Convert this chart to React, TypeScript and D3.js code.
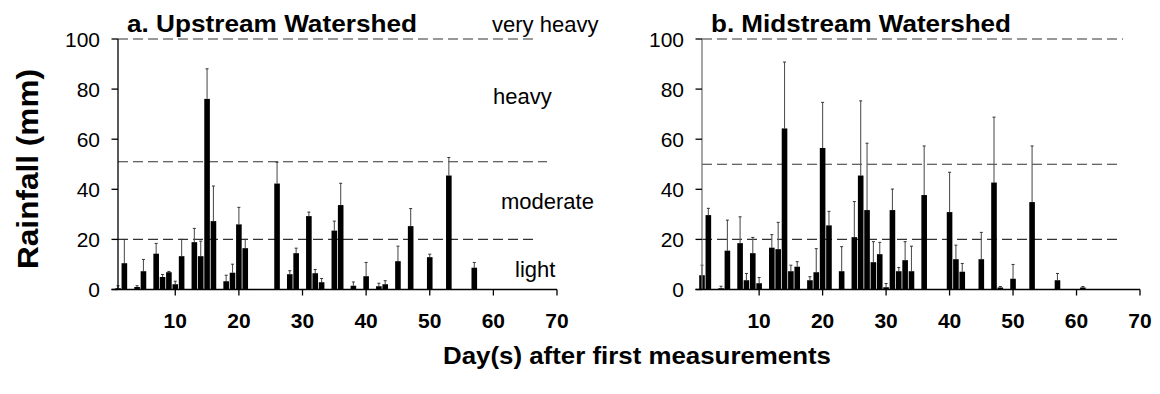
import React from "react";
import * as d3 from "d3";

// ---------- data ----------
const daysA = [1, 2, 4, 5, 7, 8, 9, 10, 11, 13, 14, 15, 16, 18, 19, 20, 21, 26, 28, 29, 31, 32, 33, 35, 36, 38, 40, 42, 43, 45, 47, 50, 53, 57];
const rainA = [0.5, 10.5, 1, 7.3, 14.3, 5, 6.9, 2.1, 13.3, 18.9, 13.3, 76.1, 27.3, 3.3, 6.7, 26, 16.5, 42.3, 6.1, 14.5, 29.3, 6.5, 2.9, 23.5, 33.7, 1.5, 5.3, 1.3, 2.1, 11.3, 25.3, 12.9, 45.5, 8.7];
const errA = [1.0, 9.5, 0.5, 4.7, 4.1, 1.0, 0.3, 1.2, 6.7, 5.5, 6.0, 12.0, 14.0, 2.4, 3.4, 6.8, 3.5, 8.5, 1.4, 2.0, 1.6, 1.5, 1.5, 3.8, 8.7, 1.5, 5.5, 1.2, 1.4, 6.0, 7.0, 1.2, 7.2, 2.1];

const daysB = [1, 2, 4, 5, 7, 8, 9, 10, 12, 13, 14, 15, 16, 18, 19, 20, 21, 23, 25, 26, 27, 28, 29, 30, 31, 32, 33, 34, 36, 40, 41, 42, 45, 47, 48, 50, 53, 57, 61];
const rainB = [5.7, 29.7, 0.5, 15.5, 18.5, 3.7, 14.5, 2.5, 16.7, 16.1, 64.3, 7.3, 9.1, 3.7, 6.9, 56.5, 25.6, 7.3, 20.9, 45.5, 31.7, 10.9, 14.1, 0.9, 31.7, 7.3, 11.7, 7.3, 37.7, 30.9, 12.1, 7.1, 12.1, 42.7, 0.8, 4.3, 34.9, 3.7, 0.8];
const errB = [4.0, 2.7, 0.8, 12.2, 10.5, 2.7, 6.3, 2.3, 5.2, 10.7, 26.5, 2.4, 2.0, 1.4, 9.4, 18.2, 5.6, 9.8, 14.2, 29.8, 26.7, 8.2, 4.7, 1.5, 8.4, 1.5, 7.4, 10.0, 19.6, 15.9, 5.6, 3.3, 10.7, 26.1, 0.4, 5.7, 22.4, 2.7, 0.4];

const thresholdsA = [20, 51, 100];
const thresholdsB = [20, 50, 100];
const xTicks = [10, 20, 30, 40, 50, 60, 70];
const yTicks = [0, 20, 40, 60, 80, 100];
const zoneLabels = ["very heavy", "heavy", "moderate", "light"];

const FONT = "'Liberation Sans', Arial, Helvetica, sans-serif";

type PanelProps = {
  x0: number;
  x1: number;
  title: string;
  titleLen: number;
  days: number[];
  rain: number[];
  err: number[];
  thresholds: number[];
  thresholdEnds: number[];
  axisColor: string;
  zones?: boolean;
};

const yScale = d3.scaleLinear().domain([0, 100]).range([289.5, 39]);
const zonePos = [
  { x: 492, y: 32 },
  { x: 493, y: 104 },
  { x: 501, y: 209 },
  { x: 515, y: 277 },
];

function Panel(p: PanelProps) {
  const x = d3.scaleLinear().domain([1, 70]).range([p.x0, p.x1]);
  const bw = 5.6;
  return (
    <g>
      {p.thresholds.map((t, i) => (
        <line
          key={"t" + i}
          x1={p.x0}
          x2={p.thresholdEnds[i]}
          y1={yScale(t)}
          y2={yScale(t)}
          stroke="#333"
          strokeWidth={1.1}
          strokeDasharray="10,5"
        />
      ))}
      {p.days.map((d, i) => {
        const cx = x(d);
        const yt = yScale(p.rain[i] + p.err[i]);
        return (
          <g key={"e" + i}>
            <line x1={cx} x2={cx} y1={yScale(p.rain[i])} y2={yt} stroke="#555" strokeWidth={1.1} />
            <line x1={cx - 1.5} x2={cx + 1.5} y1={yt} y2={yt} stroke="#333" strokeWidth={1} />
          </g>
        );
      })}
      {p.days.map((d, i) => (
        <rect
          key={"b" + i}
          x={x(d) - bw / 2}
          width={bw}
          y={yScale(p.rain[i])}
          height={yScale(0) - yScale(p.rain[i])}
          fill="#000"
        />
      ))}
      <line x1={p.x0} x2={p.x0} y1={yScale(0)} y2={yScale(100)} stroke={p.axisColor} strokeWidth={1.3} />
      {yTicks.map((t) => (
        <g key={"yt" + t}>
          <line x1={p.x0 - 6.5} x2={p.x0} y1={yScale(t)} y2={yScale(t)} stroke="#000" strokeWidth={1.3} />
          <text x={p.x0 - 18} y={yScale(t) + 7.5} textAnchor="end" fontFamily={FONT} fontSize={21} fill="#000">
            {t}
          </text>
        </g>
      ))}
      <line x1={p.x0 - 6.5} x2={p.x1} y1={yScale(0)} y2={yScale(0)} stroke="#000" strokeWidth={1.5} />
      {xTicks.map((t) => (
        <g key={"xt" + t}>
          <line x1={x(t)} x2={x(t)} y1={yScale(0)} y2={yScale(0) + 6} stroke="#000" strokeWidth={1.3} />
          <text x={x(t)} y={328} textAnchor="middle" fontFamily={FONT} fontWeight="bold" fontSize={21} fill="#000">
            {t}
          </text>
        </g>
      ))}
      <text
        x={p.x0 + 9}
        y={32}
        fontFamily={FONT}
        fontWeight="bold"
        fontSize={24}
        textLength={p.titleLen}
        lengthAdjust="spacingAndGlyphs"
        fill="#000"
      >
        {p.title}
      </text>
      {p.zones &&
        zoneLabels.map((z, i) => (
          <text key={"z" + i} x={zonePos[i].x} y={zonePos[i].y} fontFamily={FONT} fontSize={22} fill="#000">
            {z}
          </text>
        ))}
    </g>
  );
}

export default function App() {
  return (
    <div style={{ position: "absolute", left: 0, top: 0 }}>
      <svg width={1160} height={394} style={{ display: "block", background: "#fff" }}>
        <rect width={1160} height={394} fill="#fff" />
        <Panel
          x0={118}
          x1={557}
          title="a. Upstream Watershed"
          titleLen={290}
          days={daysA}
          rain={rainA}
          err={errA}
          thresholds={thresholdsA}
          thresholdEnds={[538, 547, 537]}
          axisColor="#000"
          zones
        />
        <Panel
          x0={702}
          x1={1140}
          title="b. Midstream Watershed"
          titleLen={300}
          days={daysB}
          rain={rainB}
          err={errB}
          thresholds={thresholdsB}
          thresholdEnds={[1118, 1122, 1123]}
          axisColor="#777"
        />
        <text
          transform="translate(38,169) rotate(-90)"
          textAnchor="middle"
          fontFamily={FONT}
          fontWeight="bold"
          fontSize={29}
          textLength={200}
          lengthAdjust="spacingAndGlyphs"
          fill="#000"
        >
          Rainfall (mm)
        </text>
        <text
          x={637}
          y={364}
          textAnchor="middle"
          fontFamily={FONT}
          fontWeight="bold"
          fontSize={24}
          textLength={388}
          lengthAdjust="spacingAndGlyphs"
          fill="#000"
        >
          Day(s) after first measurements
        </text>
      </svg>
    </div>
  );
}
